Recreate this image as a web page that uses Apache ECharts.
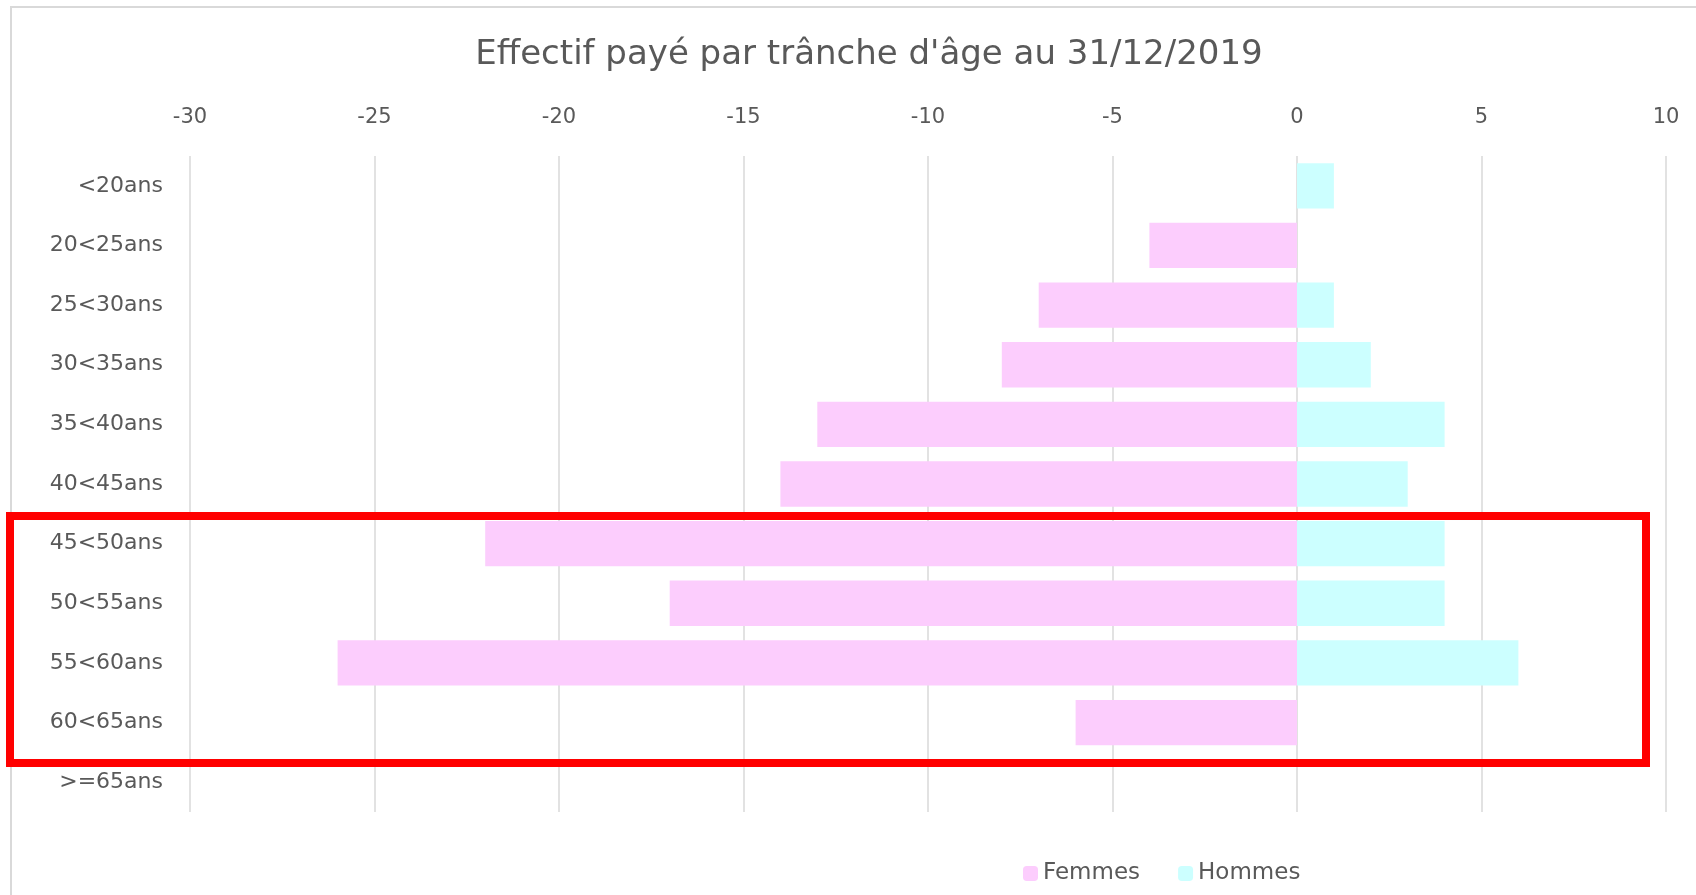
<!DOCTYPE html>
<html>
<head>
<meta charset="utf-8">
<script src="https://cdn.jsdelivr.net/npm/echarts@6/dist/echarts.min.js"></script>
<style>
  html, body { margin: 0; padding: 0; background: #fff; }
  #chart { width: 1696px; height: 895px; }
</style>
</head>
<body>
<div id="chart"></div>
<script>
// tranches d'âge, de haut en bas
const ageGroups = ['<20ans', '20<25ans', '25<30ans', '30<35ans', '35<40ans', '40<45ans',
  '45<50ans', '50<55ans', '55<60ans', '60<65ans', '>=65ans'];
// femmes en négatif pour la pyramide
const femmes = [0, -4, -7, -8, -13, -14, -22, -17, -26, -6, 0];
const hommes = [1, 0, 1, 2, 4, 3, 4, 4, 6, 0, 0];
const xTicks = { min: -30, max: 10, step: 5 };

const textColor = '#595959';
const font = 'DejaVu Sans';

let myChart = echarts.init(document.getElementById('chart'));

let option = {
  animation: false,
  title: {
    text: "Effectif payé par trânche d'âge au 31/12/2019",
    left: 864,
    textAlign: 'center',
    top: 33,
    textStyle: { fontFamily: font, fontSize: 34, fontWeight: 'normal', color: textColor }
  },
  legend: {
    data: ['Femmes', 'Hommes'],
    bottom: 5,
    left: 1018,
    itemWidth: 15,
    itemHeight: 15,
    itemGap: 38,
    textStyle: { fontFamily: font, fontSize: 23, color: textColor }
  },
  grid: {
    left: 190,
    right: 30,
    top: 156,
    bottom: 83
  },
  xAxis: {
    type: 'value',
    position: 'top',
    min: xTicks.min,
    max: xTicks.max,
    interval: xTicks.step,
    axisLine: { show: false },
    axisTick: { show: false },
    axisLabel: { fontFamily: font, fontSize: 21, color: textColor, margin: 28 },
    splitLine: { lineStyle: { color: '#d9d9d9', width: 1.5 } }
  },
  yAxis: {
    type: 'category',
    inverse: true,
    data: ageGroups,
    axisLine: { show: false },
    axisTick: { show: false },
    axisLabel: { fontFamily: font, fontSize: 22, color: textColor, margin: 27 }
  },
  series: [
    {
      name: 'Femmes',
      type: 'bar',
      stack: 'pyramide',
      data: femmes,
      barCategoryGap: '24%',
      itemStyle: { color: '#fccdfd' }
    },
    {
      name: 'Hommes',
      type: 'bar',
      stack: 'pyramide',
      data: hommes,
      barCategoryGap: '24%',
      itemStyle: { color: '#ccffff' }
    }
  ],
  graphic: [
    {
      // cadre du graphique
      type: 'rect',
      silent: true,
      shape: { x: 11, y: 7, width: 1720, height: 920 },
      style: { fill: 'none', stroke: '#d9d9d9', lineWidth: 2 }
    },
    {
      // encadré rouge
      type: 'rect',
      silent: true,
      z: 100,
      shape: { x: 10, y: 516, width: 1636, height: 247 },
      style: { fill: 'none', stroke: '#ff0000', lineWidth: 8 }
    }
  ]
};

option && myChart.setOption(option);
</script>
</body>
</html>
